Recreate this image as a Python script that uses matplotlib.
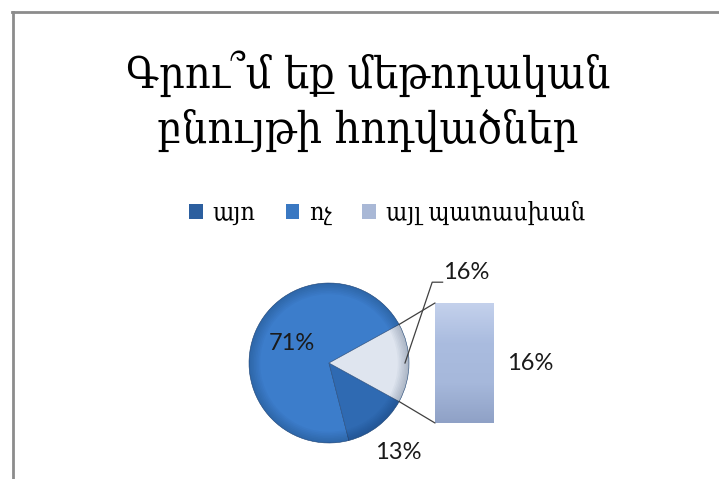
import numpy as np
import matplotlib.pyplot as plt
from matplotlib.colors import LinearSegmentedColormap
from matplotlib.patches import Patch
from matplotlib.patches import ConnectionPatch
from matplotlib.lines import Line2D

# Survey answers (percent)
labels = ['այո', 'ոչ', 'այլ պատասխան']
values = [71, 13, 16]
pie_colors = ['#3c7dcb', '#2f6ab2', '#dfe5ef']
legend_colors = ['#2c5f9f', '#3a78c2', '#a9b8d6']
title = 'Գրու՞մ եք մեթոդական\nբնույթի հոդվածներ'

W, H = 719, 479
fig = plt.figure(figsize=(W / 100, H / 100), dpi=100)

# chart frame (top and left edges)
fig.add_artist(Line2D([12 / W, 1], [1 - 12 / H, 1 - 12 / H], color='#8c8c8c', lw=2))
fig.add_artist(Line2D([13 / W, 13 / W], [0, 1 - 12 / H], color='#8c8c8c', lw=2))

fig.text(368 / W, 1 - 101 / H, title, ha='center', va='center',
         fontsize=32, family='DejaVu Serif', fontstretch='condensed',
         linespacing=1.35)

# pie part
cx, cy, r = 329, 363, 80
ax_pie = fig.add_axes([(cx - r) / W, (H - cy - r) / H, 2 * r / W, 2 * r / H])
start = 360 * values[2] / 100 / 2
wedges, _ = ax_pie.pie(values, colors=pie_colors, startangle=start,
                       counterclock=True, radius=1,
                       wedgeprops=dict(edgecolor='#2a4f80', linewidth=0.4))
# darker rim for a rounded look
for w in wedges:
    ring = np.linspace(0.86, 1.0, 8)
    for k, rr in enumerate(ring):
        ax_pie.add_patch(plt.matplotlib.patches.Wedge(
            (0, 0), 1.0, w.theta1, w.theta2, width=1.0 - rr,
            facecolor='#0b2545', alpha=0.035, edgecolor='none'))
ax_pie.set_xlim(-1, 1)
ax_pie.set_ylim(-1, 1)
ax_pie.set_aspect('equal')
ax_pie.axis('off')

font_pct = dict(fontsize=17, family='Lato', color='#1a1a1a')

# labels on the pie
angles = np.cumsum([0] + values) / 100 * 360 + start
mid = (angles[:-1] + angles[1:]) / 2
a0 = np.radians(mid[0])
ax_pie.text(0.5 * np.cos(a0), 0.5 * np.sin(a0) + 0.05, f'{values[0]}%',
            ha='center', va='center', **font_pct)
a1 = np.radians(mid[1])
ax_pie.text(1.42 * np.cos(a1), 1.42 * np.sin(a1), f'{values[1]}%',
            ha='center', va='center', clip_on=False, **font_pct)
ax_pie.plot([0.95, 1.29, 1.42], [0.0, 1.01, 1.01], color='#404040', lw=0.9,
            clip_on=False)
ax_pie.text(1.43, 1.13, f'{values[2]}%', ha='left', va='center',
            clip_on=False, **font_pct)

# bar part, showing the split-off slice
bx0, bx1, by0, by1 = 435, 494, 303, 423
ax_bar = fig.add_axes([bx0 / W, (H - by1) / H, (bx1 - bx0) / W, (by1 - by0) / H])
bar = ax_bar.bar([0], [values[2]], width=1, color='#a7b9dc',
                 edgecolor='#7d8fb3', linewidth=0.8)[0]
grad = np.linspace(0, 1, 256).reshape(-1, 1)
ax_bar.imshow(grad, extent=(-0.5, 0.5, 0, values[2]), aspect='auto',
              cmap=LinearSegmentedColormap.from_list(
                  'bev', ['#8fa1c6', '#a6b8db', '#aabcdf', '#c4d1ec']),
              origin='lower', clip_path=bar, zorder=2)
ax_bar.set_xlim(-0.5, 0.5)
ax_bar.set_ylim(0, values[2])
ax_bar.axis('off')
ax_bar.text(0.72, values[2] / 2, f'{values[2]}%', ha='left', va='center',
            clip_on=False, **font_pct)

# connector lines between slice and bar
for ang, yb in [(angles[3], values[2]), (angles[2], 0)]:
    a = np.radians(ang)
    con = ConnectionPatch(xyA=(np.cos(a), np.sin(a)), coordsA=ax_pie.transData,
                          xyB=(-0.5, yb), coordsB=ax_bar.transData,
                          color='#404040', lw=0.9)
    fig.add_artist(con)

# legend
handles = [Patch(facecolor=c, edgecolor='none') for c in legend_colors]
fig.legend(handles, labels, loc='center', bbox_to_anchor=(387 / W, 1 - 213 / H),
           ncol=3, frameon=False,
           prop=dict(family='DejaVu Serif', size=18, stretch='condensed'),
           handlelength=0.55, handleheight=0.55, handletextpad=0.4,
           columnspacing=1.2)

fig.savefig('out.png', dpi=100, facecolor='white')
